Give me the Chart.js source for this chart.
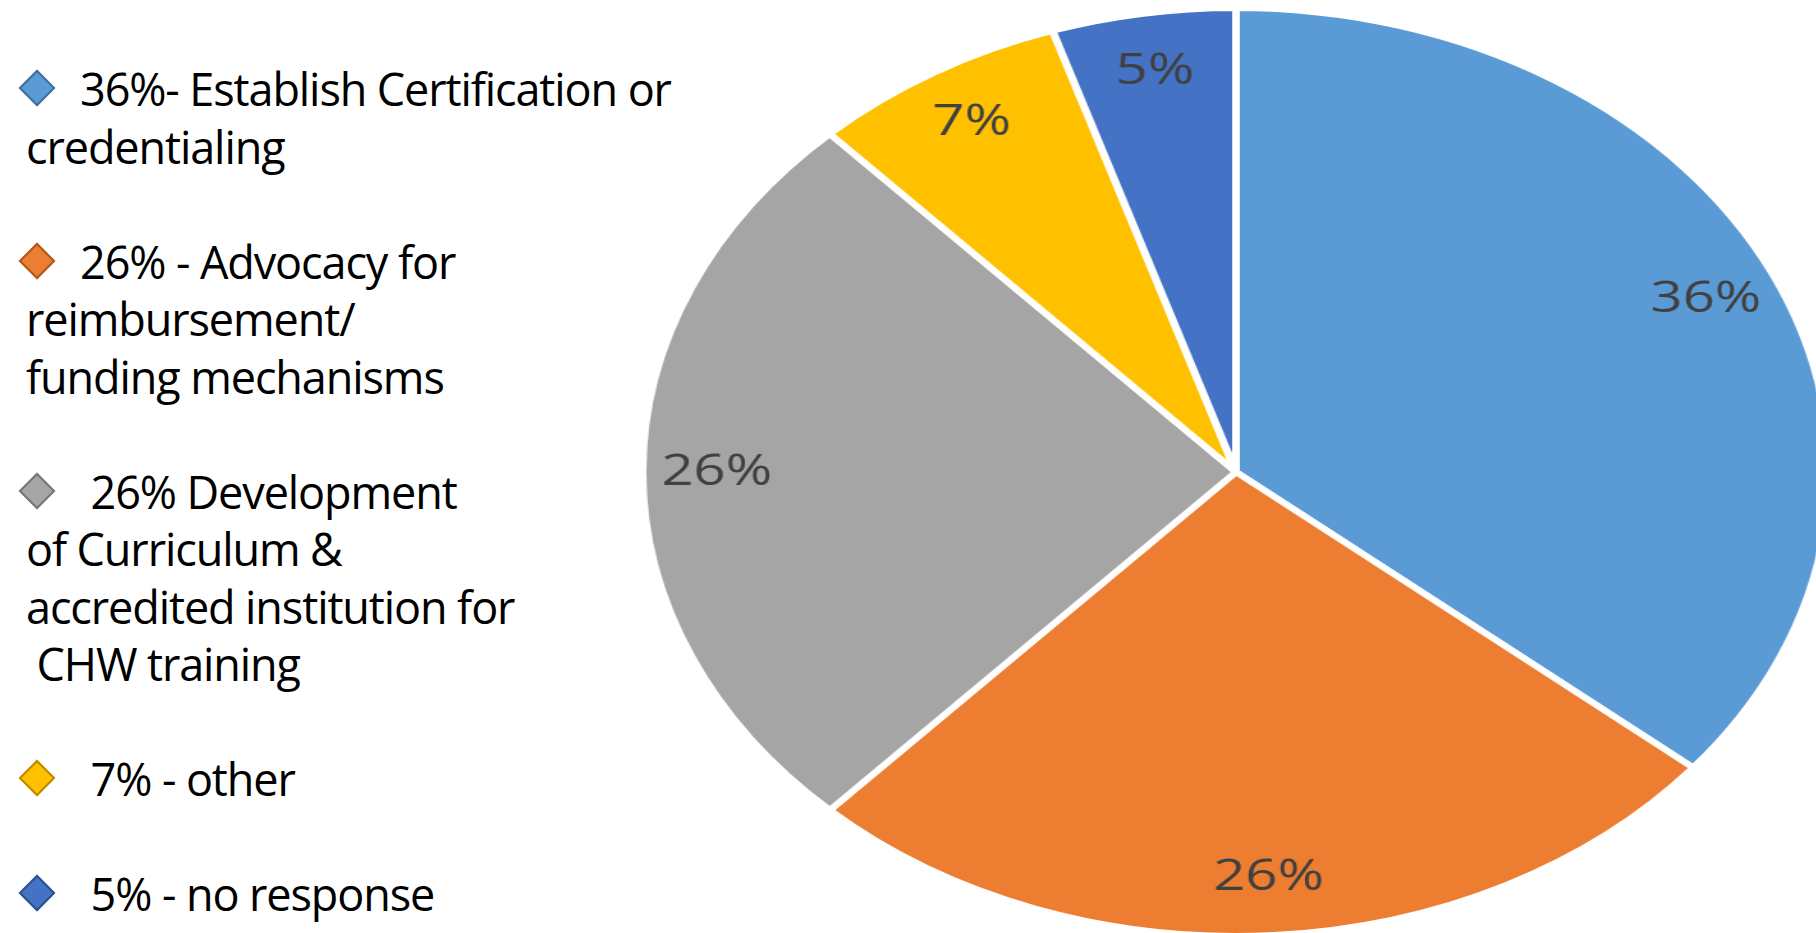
<!DOCTYPE html>
<html>
<head>
<meta charset="utf-8">
<script src="https://cdn.jsdelivr.net/npm/chart.js@4/dist/chart.umd.min.js"></script>
<style>
  html, body { margin: 0; padding: 0; background: #fff; }
  body { width: 1816px; height: 933px; position: relative; overflow: hidden; }
  #legend {
    position: absolute; left: 26px; top: 60px;
    font-family: 'Open Sans', sans-serif; font-size: 45px; line-height: 57.5px;
    letter-spacing: -1.1px; color: #000; white-space: pre;
  }
  .item { margin-bottom: 57.5px; }
  .bullet { display: inline-block; width: 54px; height: 1px; position: relative; }
  .bullet i {
    position: absolute; left: -2px; top: -30px; width: 26px; height: 26px;
    transform: rotate(45deg); box-sizing: border-box; border: 2px solid;
  }
  #pieWrap {
    position: absolute; left: 764px; top: 0; width: 944px; height: 944px;
    transform: scaleX(1.279); transform-origin: 50% 50%;
  }
</style>
</head>
<body>
<div id="legend"></div>
<div id="pieWrap"><canvas id="pie" width="944" height="944"></canvas></div>
<script>
const categories = [
  '36%- Establish Certification or\ncredentialing',
  '26% - Advocacy for\nreimbursement/\nfunding mechanisms',
  ' 26% Development\nof Curriculum &\naccredited institution for\n CHW training',
  ' 7% - other',
  ' 5% - no response'
];
const values = [36, 26, 26, 7, 5];
const colors = ['#5B9BD5', '#ED7D31', '#A5A5A5', '#FFC000', '#4472C4'];
const edgeColors = ['#41719C', '#AE5A21', '#787878', '#BC8C00', '#2F528F'];

// legend on the left, one block per category
const legendEl = document.getElementById('legend');
categories.forEach((label, i) => {
  const item = document.createElement('div');
  item.className = 'item';
  const bullet = document.createElement('span');
  bullet.className = 'bullet';
  const d = document.createElement('i');
  d.style.background = colors[i];
  d.style.borderColor = edgeColors[i];
  bullet.appendChild(d);
  item.appendChild(bullet);
  item.appendChild(document.createTextNode(label));
  legendEl.appendChild(item);
});

const pieLabels = {
  id: 'pieLabels',
  afterDatasetsDraw(chart) {
    const ctx = chart.ctx;
    const meta = chart.getDatasetMeta(0);
    meta.data.forEach((arc, index) => {
      const { x, y, startAngle, endAngle, outerRadius } =
        arc.getProps(['x', 'y', 'startAngle', 'endAngle', 'outerRadius'], true);
      const mid = (startAngle + endAngle) / 2;
      const r = outerRadius * 0.875;
      ctx.save();
      ctx.fillStyle = '#404040';
      ctx.font = '44px "Open Sans"';
      ctx.textAlign = 'center';
      ctx.textBaseline = 'middle';
      ctx.fillText(values[index] + '%', x + Math.cos(mid) * r, y + Math.sin(mid) * r);
      ctx.restore();
    });
  }
};

new Chart(document.getElementById('pie').getContext('2d'), {
  type: 'pie',
  data: {
    labels: categories,
    datasets: [{
      data: values,
      backgroundColor: colors,
      borderColor: '#fff',
      borderWidth: 6
    }]
  },
  options: {
    responsive: false,
    animation: false,
    radius: 464,
    layout: { padding: 0 },
    plugins: {
      legend: { display: false },
      tooltip: { enabled: false }
    }
  },
  plugins: [pieLabels]
});
</script>
</body>
</html>
